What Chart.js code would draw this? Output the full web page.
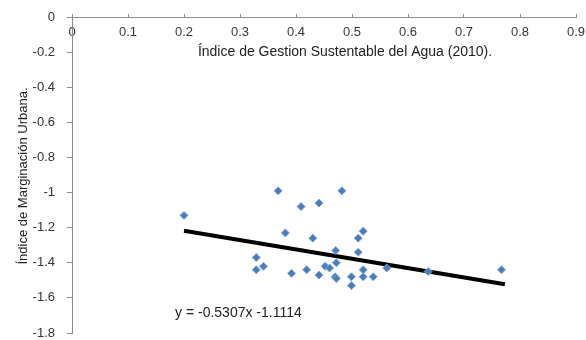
<!DOCTYPE html>
<html>
<head>
<meta charset="utf-8">
<title>Marginacion vs Gestion del Agua</title>
<script src="https://cdn.jsdelivr.net/npm/chart.js@4.4.1/dist/chart.umd.min.js"></script>
<style>
  html, body { margin: 0; padding: 0; background: #fff; }
  #wrap { width: 586px; height: 340px; }
</style>
</head>
<body>
<div id="wrap"><canvas id="scatter" width="586" height="340"></canvas></div>
<script>
// values
var gestion = [0.200, 0.368, 0.409, 0.441, 0.482, 0.381, 0.430, 0.520, 0.511, 0.471,
               0.511, 0.329, 0.342, 0.329, 0.392, 0.419, 0.441, 0.452, 0.460, 0.470,
               0.499, 0.499, 0.520, 0.520, 0.538, 0.562, 0.636, 0.767, 0.472, 0.472];
var marginacion = [-1.13, -0.99, -1.08, -1.06, -0.99, -1.23, -1.26, -1.22, -1.26, -1.33,
                   -1.34, -1.37, -1.42, -1.44, -1.46, -1.44, -1.47, -1.42, -1.43, -1.48,
                   -1.48, -1.53, -1.44, -1.48, -1.48, -1.43, -1.45, -1.44, -1.40, -1.49];
var trendX = [0.200, 0.773];
var trendY = [-1.218, -1.522];
var equation = 'y = -0.5307x -1.1114';
var xTitle = 'Índice de Gestion Sustentable del Agua (2010).';
var yTitle = 'Índice de Marginación Urbana.';

Chart.defaults.font.family = 'Liberation Sans, Arial, sans-serif';
Chart.defaults.font.size = 13;
Chart.defaults.color = '#333';

var points = [];
for (var i = 0; i < gestion.length; i++) {
	points.push({x: gestion[i], y: marginacion[i]});
}
var trend = [];
for (var j = 0; j < trendX.length; j++) {
	trend.push({x: trendX[j], y: trendY[j]});
}

function fmt(v) {
	return String(Math.round(v * 10) / 10);
}

// axis titles and the trend equation
var labels_plugin = {
	id: 'labels_plugin',
	afterDraw: function(chart) {
		var ctx = chart.ctx;
		var xs = chart.scales.x, ys = chart.scales.y;
		ctx.save();
		ctx.fillStyle = '#222';
		ctx.textBaseline = 'middle';
		ctx.textAlign = 'center';
		ctx.font = '14px Liberation Sans, Arial, sans-serif';
		ctx.fillText(xTitle, 345, 52);
		ctx.textAlign = 'left';
		ctx.fillText(equation, xs.getPixelForValue(0.184), ys.getPixelForValue(-1.686));
		ctx.font = '13px Liberation Sans, Arial, sans-serif';
		ctx.translate(23, 176);
		ctx.rotate(-Math.PI / 2);
		ctx.textAlign = 'center';
		ctx.fillText(yTitle, 0, 0);
		ctx.restore();
	}
};

var ctx = document.getElementById('scatter').getContext('2d');
var chart = new Chart(ctx, {
	type: 'scatter',
	data: {
		datasets: [{
			label: 'Municipios',
			data: points,
			pointStyle: 'rectRot',
			pointRadius: 4,
			backgroundColor: '#4A7EBB',
			borderColor: '#7fa3d6',
			borderWidth: 1
		}, {
			type: 'line',
			label: 'Tendencia',
			data: trend,
			borderColor: '#000',
			borderWidth: 4,
			pointRadius: 0,
			fill: false
		}]
	},
	options: {
		responsive: false,
		animation: false,
		layout: { padding: { left: 0, right: 10, top: 17, bottom: 7 } },
		plugins: {
			legend: { display: false },
			tooltip: { enabled: false }
		},
		scales: {
			x: {
				type: 'linear',
				position: { y: 0 },
				min: 0,
				max: 0.9,
				ticks: { stepSize: 0.1, padding: 12, maxRotation: 0, callback: fmt, color: '#333' },
				grid: { drawOnChartArea: false, tickLength: -4, color: '#8c8c8c' },
				border: { color: '#8c8c8c', width: 1 },
				// axis sits on y = 0 inside the plot, so it takes no room of its own
				afterFit: function(scale) {
					scale.height = 0;
					scale.paddingLeft = 0;
					scale.paddingRight = 0;
				}
			},
			y: {
				type: 'linear',
				position: 'left',
				min: -1.8,
				max: 0,
				ticks: { stepSize: 0.2, padding: 12, callback: fmt, color: '#333' },
				grid: { drawOnChartArea: false, tickLength: 5, color: '#8c8c8c' },
				border: { color: '#8c8c8c', width: 1 },
				afterFit: function(scale) {
					scale.width = 72;
					scale.paddingTop = 0;
					scale.paddingBottom = 0;
				}
			}
		}
	},
	plugins: [labels_plugin]
});
</script>
</body>
</html>
